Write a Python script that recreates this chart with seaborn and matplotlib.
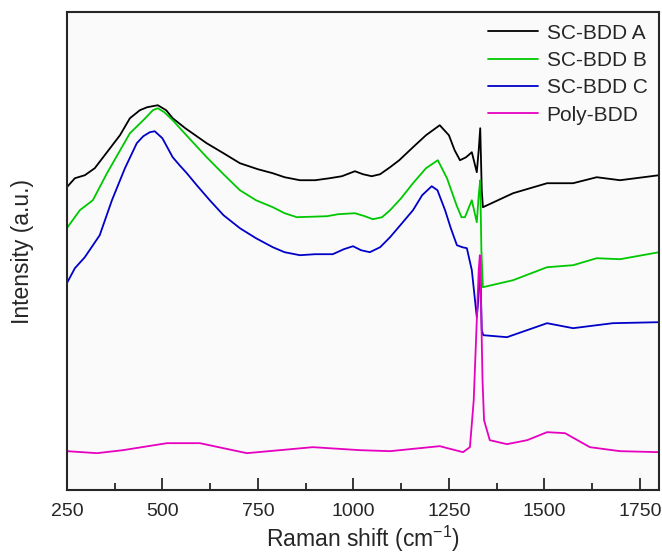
import numpy as np
import pandas as pd
import seaborn as sns
import matplotlib.pyplot as plt
from matplotlib.ticker import MultipleLocator

# Raman spectra (arbitrary intensity units)
shift_a = [250, 271, 297, 323, 349, 389, 415, 441, 460, 488, 510, 527, 560, 616, 660, 703, 750, 789, 820,
           860, 900, 938, 970, 1004, 1025, 1048, 1070, 1096, 1120, 1156, 1190, 1226, 1250, 1265, 1279,
           1295, 1310, 1323, 1328, 1332, 1336, 1339, 1418, 1507, 1575, 1637, 1698, 1800]
int_a = [303, 312, 315, 322, 335, 355, 372, 380, 383, 385, 380, 372, 362, 347, 337, 327, 321, 317, 313,
         310, 310, 312, 314, 319, 316, 314, 316, 323, 330, 343, 355, 365, 355, 340, 330,
         333, 338, 318, 340, 362, 300, 283, 297, 307, 307, 313, 310, 315]

shift_b = [250, 284, 318, 355, 415, 450, 475, 488, 505, 527, 570, 616, 660, 703, 745, 789, 820, 852, 931,
           960, 1004, 1030, 1051, 1075, 1096, 1125, 1156, 1190, 1221, 1245, 1270, 1283, 1292, 1310,
           1323, 1328, 1332, 1335, 1339, 1418, 1507, 1575, 1637, 1698, 1800]
int_b = [262, 280, 290, 317, 357, 370, 380, 382, 378, 370, 352, 333, 316, 300, 290, 283, 277, 273, 274,
         276, 277, 274, 271, 273, 280, 292, 307, 322, 330, 312, 285, 273, 273, 290,
         268, 295, 310, 240, 203, 210, 223, 225, 232, 231, 238]

shift_c = [250, 271, 297, 336, 368, 402, 433, 450, 467, 480, 500, 527, 545, 564, 590, 624, 660, 703, 745,
           789, 820, 860, 900, 946, 975, 999, 1020, 1043, 1070, 1096, 1125, 1156, 1180, 1205, 1220, 1240,
           1255, 1271, 1285, 1297, 1310, 1323, 1327, 1332, 1336, 1340, 1402, 1507, 1575, 1679, 1800]
int_c = [207, 222, 233, 255, 290, 322, 347, 354, 358, 359, 352, 333, 325, 317, 305, 290, 275, 262, 252,
         243, 238, 235, 236, 236, 241, 244, 240, 238, 243, 253, 266, 280, 295, 304, 300, 280,
         262, 245, 243, 242, 220, 173, 190, 227, 160, 155, 153, 167, 162, 167, 168]

shift_p = [250, 329, 397, 512, 598, 721, 894, 1017, 1096, 1226, 1287, 1305, 1315, 1323, 1328, 1331,
           1334, 1338, 1342, 1357, 1402, 1455, 1507, 1554, 1619, 1698, 1800]
int_p = [39, 37, 40, 47, 47, 37, 43, 40, 39, 44, 38, 43, 90, 170, 220, 235, 190, 110, 70, 50, 46, 50,
         58, 57, 43, 39, 38]

labels = ['SC-BDD A', 'SC-BDD B', 'SC-BDD C', 'Poly-BDD']
colors = ['#000000', '#00c800', '#0000c8', '#e600c0']

frames = []
for lab, xs, ys in zip(labels, [shift_a, shift_b, shift_c, shift_p], [int_a, int_b, int_c, int_p]):
    frames.append(pd.DataFrame({'shift': xs, 'intensity': ys, 'sample': lab}))
df = pd.concat(frames, ignore_index=True)

sns.set_style('ticks')
plt.rcParams['font.family'] = ['Liberation Sans', 'DejaVu Sans']
plt.rcParams['mathtext.fontset'] = 'custom'
plt.rcParams['mathtext.rm'] = 'Liberation Sans'

fig = plt.figure(figsize=(6.62, 5.57), dpi=100)
ax = fig.add_axes([0.101, 0.12, 0.8945, 0.858])
ax.set_facecolor('#fafafa')

sns.lineplot(data=df, x='shift', y='intensity', hue='sample', hue_order=labels,
             palette=dict(zip(labels, colors)), linewidth=1.3, sort=False,
             estimator=None, ax=ax)

ax.set_xlim(250, 1800)
ax.set_ylim(0, 478)
ax.xaxis.set_major_locator(MultipleLocator(250))
ax.xaxis.set_minor_locator(MultipleLocator(125))
ax.tick_params(axis='x', which='major', direction='in', length=9, width=1.3, labelsize=14, pad=9)
ax.tick_params(axis='x', which='minor', direction='in', length=5, width=1.3)
ax.set_yticks([])
for s in ax.spines.values():
    s.set_linewidth(1.5)

ax.set_xlabel('Raman shift (cm$^{\\mathregular{-1}}$)', fontsize=16.5, labelpad=3)
ax.set_ylabel('Intensity (a.u.)', fontsize=16.5, labelpad=24)

leg = ax.legend(loc='upper right', frameon=False, fontsize=15, handlelength=2.4,
                handletextpad=0.4, labelspacing=0.4, borderaxespad=0.15)
for line in leg.get_lines():
    line.set_linewidth(1.3)

fig.savefig('out.png', dpi=100)
